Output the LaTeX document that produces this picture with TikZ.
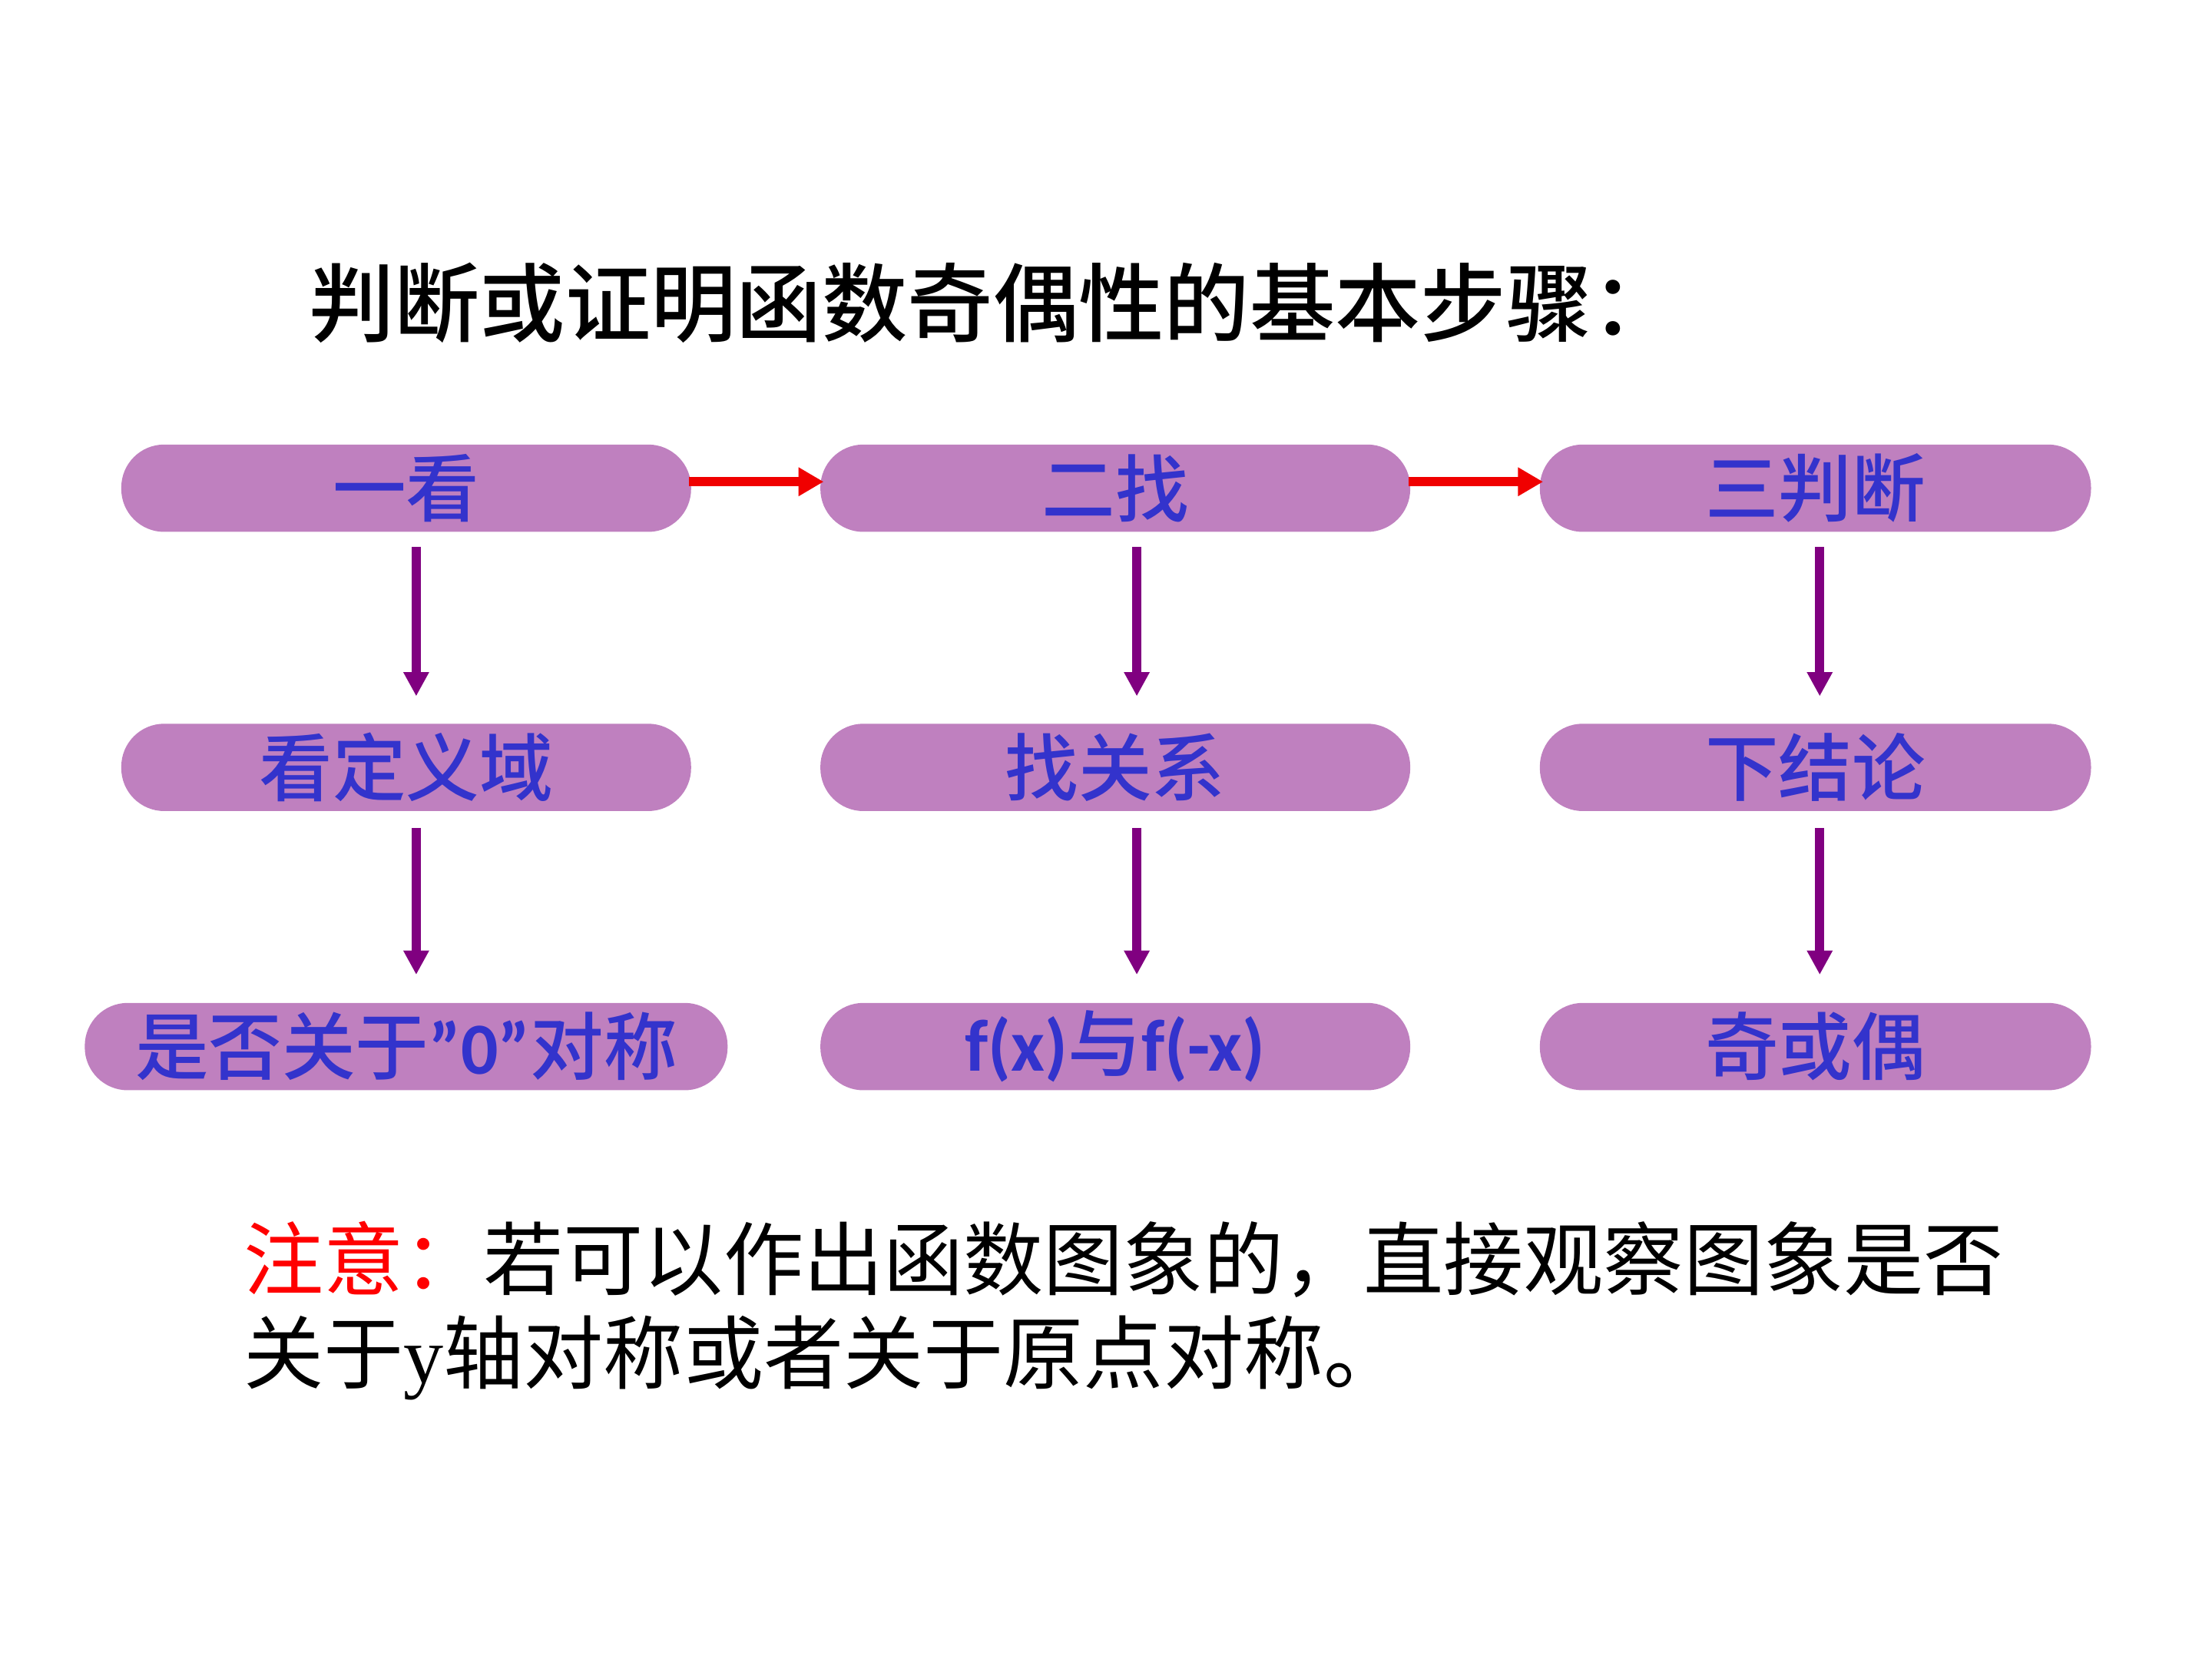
\documentclass[tikz,border=0pt]{standalone}
\usepackage{fontspec}
\setmainfont{Liberation Serif}
\newfontfamily\cjk{Noto Sans CJK SC}
\newfontfamily\cjkm{Noto Sans CJK SC Medium}
\newfontfamily\latb{Carlito Bold}
\usetikzlibrary{arrows.meta}
\definecolor{boxfill}{RGB}{191,128,191}
\definecolor{boxtext}{RGB}{51,51,204}
\definecolor{arrowred}{RGB}{240,0,0}
\definecolor{arrowpurple}{RGB}{128,0,128}
\begin{document}
\begin{tikzpicture}[
    stepbox/.style={fill=boxfill, rounded corners=0.3cm, minimum height=0.61cm,
      inner sep=0pt, text=boxtext, font=\cjkm\fontsize{14.6pt}{15pt}\selectfont},
    redarrow/.style={draw=arrowred, line width=1.8pt,
      -{Triangle[length=5pt,width=5.4pt]}},
    downarrow/.style={draw=arrowpurple, line width=1.8pt,
      -{Triangle[length=4.8pt,width=4.8pt]}}]
  \useasboundingbox (0,0) rectangle (15.45,-11.5875);
  % title
  \node[anchor=west, inner sep=0pt, font=\cjkm\fontsize{17pt}{18pt}\selectfont]
    (title) at (2.15,-2.118) {判断或证明函数奇偶性的基本步骤：};
  % first row
  \node[stepbox, minimum width=3.98cm] (kan) at (2.837,-3.41) {一看};
  \node[stepbox, minimum width=4.12cm] (zhao) at (7.79,-3.41) {二找};
  \node[stepbox, minimum width=3.85cm] (pan) at (12.68,-3.41) {三判断};
  % second row
  \node[stepbox, minimum width=3.98cm] (dingyi) at (2.837,-5.36) {看定义域};
  \node[stepbox, minimum width=4.12cm] (guanxi) at (7.79,-5.36) {找关系};
  \node[stepbox, minimum width=3.85cm] (jielun) at (12.68,-5.36) {下结论};
  % third row
  \node[stepbox, minimum width=4.49cm] (duicheng) at (2.837,-7.31)
    {是否关于{\latb ”0”}对称};
  \node[stepbox, minimum width=4.12cm] (fx) at (7.79,-7.31)
    {{\latb f(x)}与{\latb f(-x)}};
  \node[stepbox, minimum width=3.85cm] (qiou) at (12.68,-7.31) {奇或偶};
  % arrows
  \draw[redarrow] ([xshift=-0.02cm,yshift=0.045cm]kan.east) -- ([xshift=0.03cm,yshift=0.045cm]zhao.west);
  \draw[redarrow] ([xshift=-0.02cm,yshift=0.045cm]zhao.east) -- ([xshift=0.03cm,yshift=0.045cm]pan.west);
  \draw[downarrow] ([xshift=0.07cm,yshift=-0.10cm]kan.south) -- ([xshift=0.07cm,yshift=0.185cm]dingyi.north);
  \draw[downarrow] ([xshift=0.15cm,yshift=-0.10cm]zhao.south) -- ([xshift=0.15cm,yshift=0.185cm]guanxi.north);
  \draw[downarrow] ([xshift=0.03cm,yshift=-0.10cm]pan.south) -- ([xshift=0.03cm,yshift=0.185cm]jielun.north);
  \draw[downarrow] ([xshift=0.07cm,yshift=-0.11cm]dingyi.south) -- ([xshift=0.07cm,yshift=0.19cm]duicheng.north);
  \draw[downarrow] ([xshift=0.15cm,yshift=-0.11cm]guanxi.south) -- ([xshift=0.15cm,yshift=0.19cm]fx.north);
  \draw[downarrow] ([xshift=0.03cm,yshift=-0.11cm]jielun.south) -- ([xshift=0.03cm,yshift=0.19cm]qiou.north);
  % note
  \node[anchor=west, inner sep=0pt, font=\cjk\fontsize{15.9pt}{17pt}\selectfont]
    (note1) at (1.694,-8.796) {\textcolor{red}{注意：}若可以作出函数图象的，直接观察图象是否};
  \node[anchor=west, inner sep=0pt, font=\cjk\fontsize{15.9pt}{17pt}\selectfont]
    (note2) at (1.694,-9.486) {关于{\rmfamily y}轴对称或者关于原点对称。};
\end{tikzpicture}
\end{document}
